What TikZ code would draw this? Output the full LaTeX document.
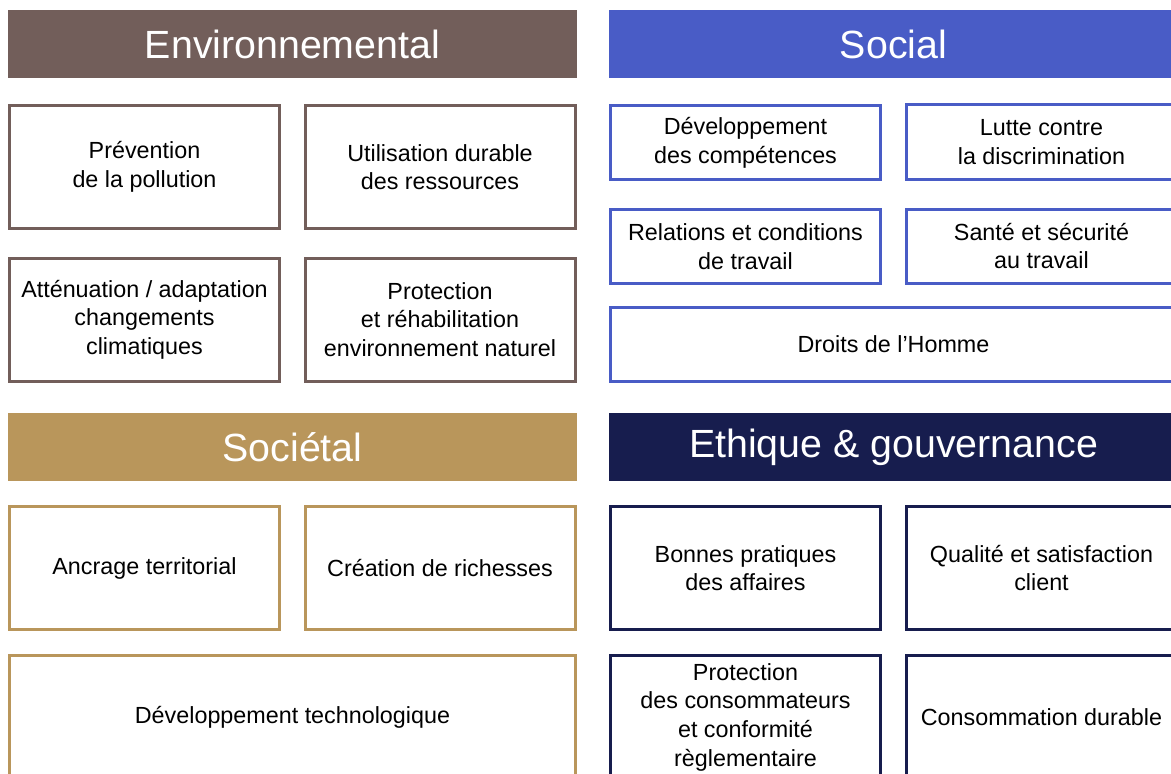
\documentclass[tikz,border=0pt]{standalone}
\usepackage{fontspec}
\setmainfont{Liberation Sans}
\usepackage{tikz}
\usetikzlibrary{positioning}
\usepackage{xcolor}
\definecolor{envcol}{RGB}{114,94,90}
\definecolor{soccol}{RGB}{73,92,198}
\definecolor{sctcol}{RGB}{185,150,91}
\definecolor{ethcol}{RGB}{23,29,78}

\begin{document}
\begin{tikzpicture}[x=0.75pt,y=-0.75pt,
    header/.style={fill=#1,text=white,inner sep=0pt,minimum width=426.75pt,minimum height=51pt,
      font=\fontsize{29.5}{34}\selectfont},
    item/.style={draw=#1,line width=2.25pt,fill=white,text=black,align=center,inner sep=0pt,
      minimum width=202.5pt,minimum height=92.25pt,font=\fontsize{17.5}{21.5}\selectfont},
    small/.style={minimum height=55.5pt},
    wide/.style={minimum width=424.5pt}]
      \useasboundingbox (0,0) rectangle (1171,774);
      \clip (0,0) rectangle (1171,774);

      % Environnemental
      \node[header=envcol] (env) at (292.5,44.5) {Environnemental};
      \node[item=envcol] (pollution) at (144.5,167) {Prévention\\de la pollution};
      \node[item=envcol] (ressources) at (440,167) {Utilisation durable\\des ressources};
      \node[item=envcol] (climat) at (144.5,319.5) {Atténuation / adaptation\\changements\\climatiques};
      \node[item=envcol] (nature) at (440,319.5) {Protection\\et réhabilitation\\environnement naturel};

      % Social
      \node[header=soccol] (soc) at (893.5,44.5) {Social};
      \node[item=soccol,small] (competences) at (745.5,142.5) {Développement\\des compétences};
      \node[item=soccol,small] (discrimination) at (1041.5,142) {Lutte contre\\la discrimination};
      \node[item=soccol,small] (relations) at (745.5,246.5) {Relations et conditions\\de travail};
      \node[item=soccol,small] (sante) at (1041.5,246) {Santé et sécurité\\au travail};
      \node[item=soccol,small,wide] (homme) at (893.5,344) {Droits de l’Homme};

      % Sociétal
      \node[header=sctcol] (sct) at (292.5,447) {Sociétal};
      \node[item=sctcol] (ancrage) at (144.5,568) {Ancrage territorial};
      \node[item=sctcol] (richesses) at (440,568) {Création de richesses};
      \node[item=sctcol,wide] (techno) at (292.5,717) {Développement technologique};

      % Ethique & gouvernance
      \node[header=ethcol] (eth) at (893.5,447) {Ethique \& gouvernance};
      \node[item=ethcol] (affaires) at (745.5,568) {Bonnes pratiques\\des affaires};
      \node[item=ethcol] (client) at (1041.5,568) {Qualité et satisfaction\\client};
      \node[item=ethcol] (consommateurs) at (745.5,717) {Protection\\des consommateurs\\et conformité\\règlementaire};
      \node[item=ethcol] (durable) at (1041.5,717) {Consommation durable};
\end{tikzpicture}
\end{document}
